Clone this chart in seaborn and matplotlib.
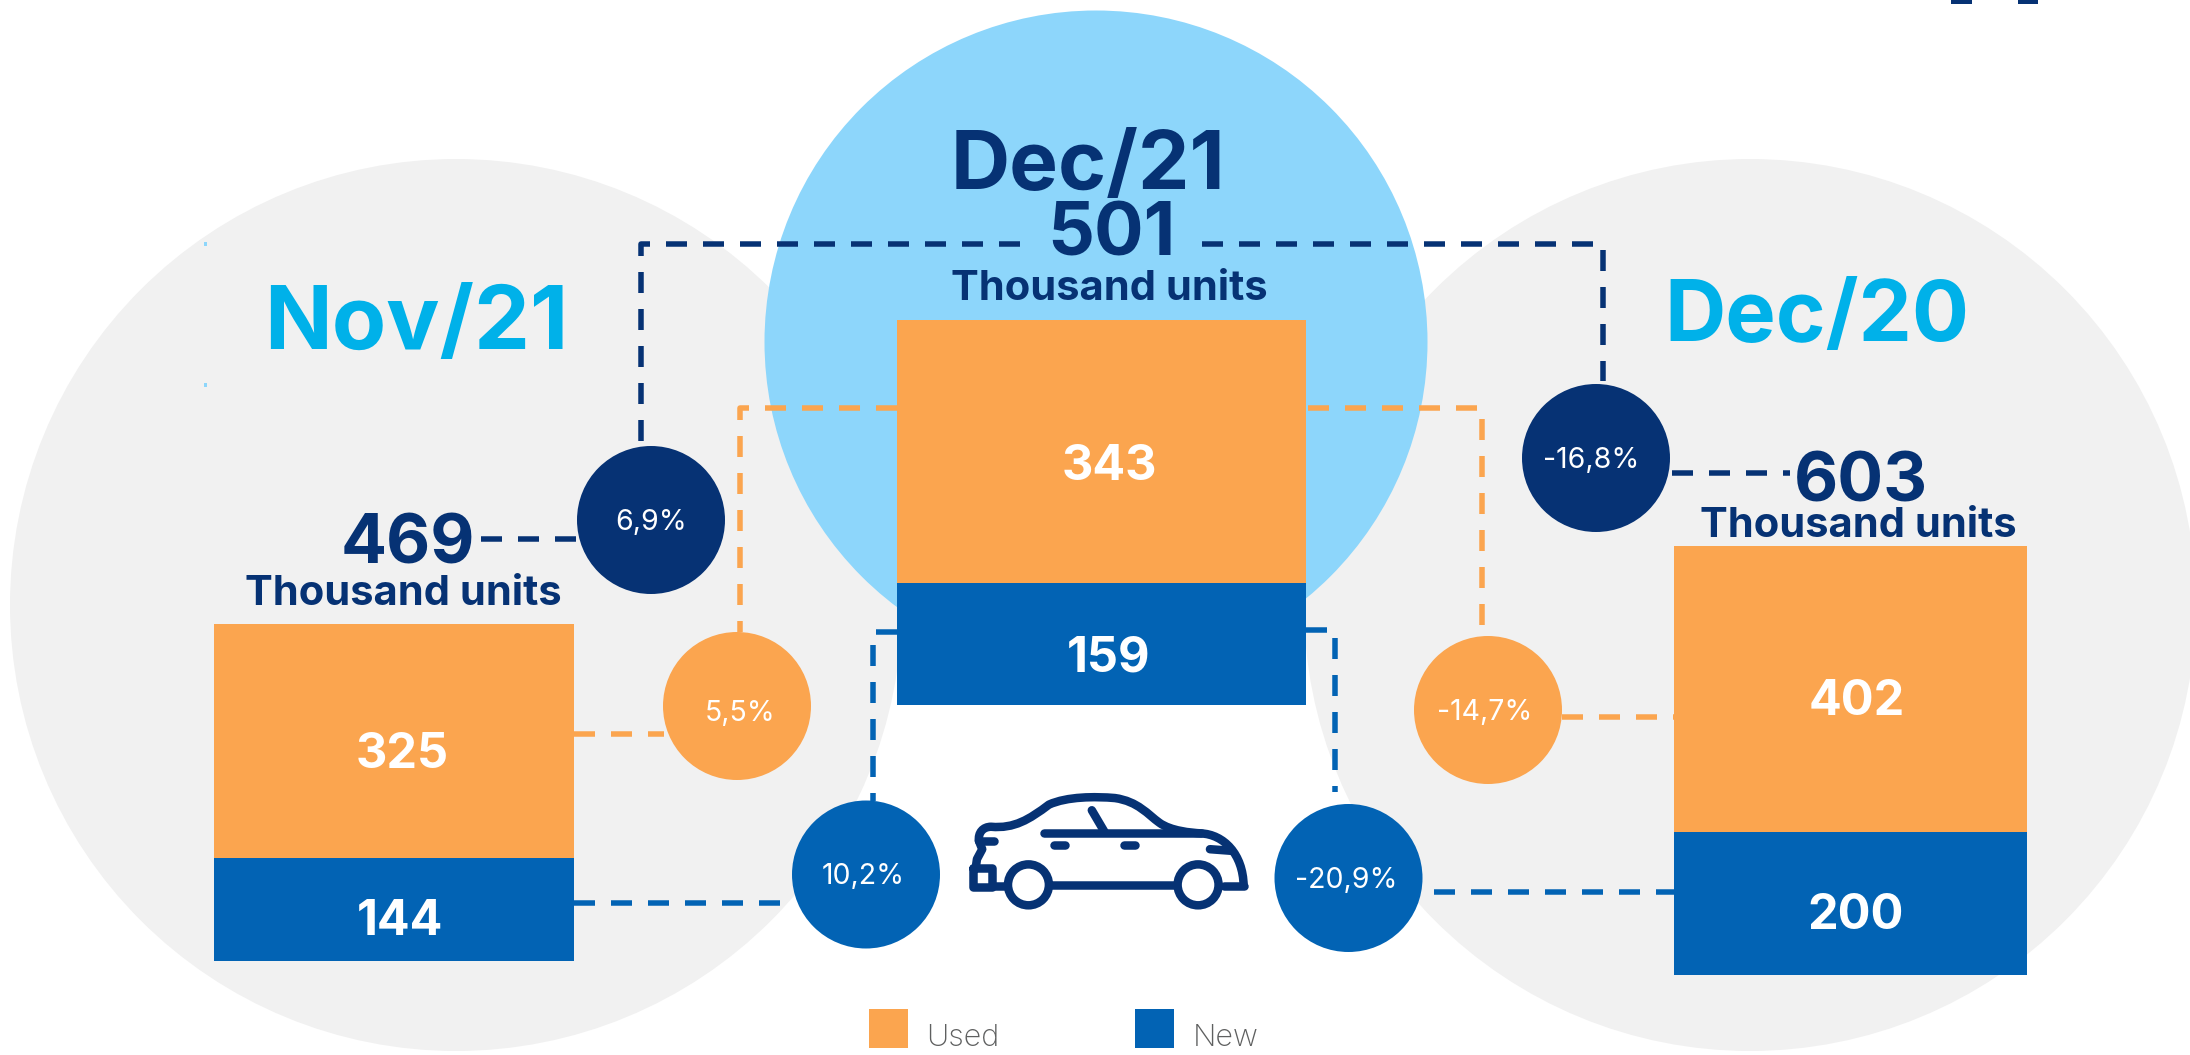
import matplotlib
matplotlib.use("Agg")
import matplotlib.pyplot as plt
from matplotlib.patches import Circle, Rectangle, PathPatch
from matplotlib.path import Path
import seaborn as sns

W, H = 2190, 1055
FONT = "Inter"

months = ["Nov/21", "Dec/21", "Dec/20"]
used = [325, 343, 402]
new = [144, 159, 200]
totals_shown = [469, 501, 603]
pct_total = ["6,9%", "-16,8%"]
pct_used = ["5,5%", "-14,7%"]
pct_new = ["10,2%", "-20,9%"]
unit_label = "Thousand units"
legend_labels = ["Used", "New"]

ORANGE = "#FBA54F"
BLUE = "#0263B4"
NAVY = "#063274"
CYAN = "#00B1E9"
SKY = "#8DD6FB"
GRAY = "#F1F1F1"

sns.set_theme(style="white")
plt.rcParams["font.family"] = [FONT, "DejaVu Sans"]

fig = plt.figure(figsize=(W / 100, H / 100), dpi=100, facecolor="white")


def full_axes(z):
    ax = fig.add_axes([0, 0, 1, 1], zorder=z)
    ax.set_xlim(0, W)
    ax.set_ylim(H, 0)
    ax.axis("off")
    ax.patch.set_alpha(0)
    return ax


back = full_axes(0)
over = full_axes(2)

# background discs
back.add_patch(Circle((456, 605), 446, fc=GRAY, ec="none"))
back.add_patch(Circle((1750, 605), 446, fc=GRAY, ec="none"))
back.add_patch(Circle((1096, 342), 331.5, fc=SKY, ec="none"))
for yy in (244, 385):
    back.add_patch(Rectangle((204, yy - 2), 2.5, 4, fc=SKY, ec="none"))

# stacked bars, one small axes per month
boxes = [(214, 574, 624, 961), (897, 1306, 320, 705), (1674, 2027, 546, 975)]
for m, u, n, (x0, x1, y0, y1) in zip(months, used, new, boxes):
    ax = fig.add_axes([x0 / W, 1 - y1 / H, (x1 - x0) / W, (y1 - y0) / H], zorder=1)
    sns.barplot(x=[m], y=[u + n], color=ORANGE, width=1, saturation=1, linewidth=0, ax=ax)
    sns.barplot(x=[m], y=[n], color=BLUE, width=1, saturation=1, linewidth=0, ax=ax)
    ax.set_xlim(-0.5, 0.5)
    ax.set_ylim(0, u + n)
    ax.axis("off")


# dashed connectors
def dash(xs, ys, color, lw=5.5):
    over.plot(xs, ys, color=color, lw=lw * 0.72, dashes=(21 / lw, 16 / lw),
              dash_capstyle="butt", solid_joinstyle="miter", zorder=1)


dash([640.5, 640.5, 1020], [441, 243.5, 243.5], NAVY)
dash([1202, 1602.5, 1602.5], [243.5, 243.5, 381], NAVY)
dash([481, 577], [539, 539], NAVY)
dash([1672, 1790], [473, 473], NAVY)
dash([897, 740, 740], [408, 408, 632], ORANGE)
dash([1308, 1482, 1482], [408, 408, 625], ORANGE)
dash([574, 664], [733.5, 733.5], ORANGE)
dash([1562, 1674], [716.5, 716.5], ORANGE)
dash([574, 795], [903, 903], BLUE)
dash([1434, 1674], [892, 892], BLUE)
dash([897, 873, 873], [632, 632, 801], BLUE)
dash([1306, 1335, 1335], [630, 630, 792], BLUE)

# change bubbles
bubbles = [
    (651, 520, NAVY, pct_total[0], 651, 530),
    (1596, 458, NAVY, pct_total[1], 1591, 468),
    (737, 706, ORANGE, pct_used[0], 740, 721),
    (1488, 710, ORANGE, pct_used[1], 1485, 720),
    (866, 874.5, BLUE, pct_new[0], 863, 884),
    (1348.5, 878, BLUE, pct_new[1], 1346, 888),
]
for cx, cy, c, s, tx, ty in bubbles:
    over.add_patch(Circle((cx, cy), 74, fc=c, ec="none", zorder=2))
    over.text(tx, ty, s, color="white", fontsize=20.5, fontweight="normal", ha="center", va="baseline", zorder=3)

# headings
for s, x, y, c, fs in [
    (months[0], 416, 349, CYAN, 64),
    (months[1], 1088, 189, NAVY, 59),
    (months[2], 1817, 341, CYAN, 61),
]:
    over.text(x, y, s, color=c, fontsize=fs, fontweight="bold", ha="center", va="baseline", zorder=3)

# totals and units
for v, x, y, ux, uy, fs in zip(totals_shown, [407.5, 1111, 1861], [563.5, 255, 501],
                               [403, 1109, 1858], [605, 300, 537], [49, 53, 49]):
    over.text(x, y, str(v), color=NAVY, fontsize=fs, fontweight="bold", ha="center", va="baseline", zorder=3)
    over.text(ux, uy, unit_label, color=NAVY, fontsize=30, fontweight="bold", ha="center", va="baseline", zorder=3)

# bar value labels
for v, x, y in zip(used, [402, 1109, 1857], [768, 480, 715]):
    over.text(x, y, str(v), color="white", fontsize=35, fontweight="bold", ha="center", va="baseline", zorder=3)
for v, x, y in zip(new, [400, 1109, 1856], [935, 671, 929]):
    over.text(x, y, str(v), color="white", fontsize=35, fontweight="bold", ha="center", va="baseline", zorder=3)

# legend
for lab, c, sx, tx in zip(legend_labels, [ORANGE, BLUE], [869, 1135], [926, 1192.5]):
    over.add_patch(Rectangle((sx, 1009), 39, 39, fc=c, ec="none"))
    over.text(tx, 1046, lab, color="#5F6060", fontsize=22, fontweight="light", ha="left", va="baseline")


# car icon, sketched in a local 1000x485 box
def P(x, y):
    return (940 + x / 3.03, 770 + y / 3.03)


M, C = Path.MOVETO, Path.CURVE4
CAR_LW = 8.5 * 0.72


def stroke(points, curved=True):
    verts = [P(*p) for p in points]
    if curved:
        codes = [M] + [C] * (len(verts) - 1)
    else:
        codes = [M] + [Path.LINETO] * (len(verts) - 1)
    over.add_patch(PathPatch(Path(verts, codes), fc="none", ec=NAVY, lw=CAR_LW,
                             capstyle="round", joinstyle="round", zorder=3))


stroke([(118, 215), (115, 190), (130, 172), (155, 172),
        (225, 178), (270, 150), (330, 105),
        (385, 80), (470, 80), (530, 85),
        (600, 95), (630, 135), (665, 160),
        (700, 185), (760, 190), (790, 192),
        (860, 195), (918, 255), (920, 350)])
stroke([(920, 350), (860, 350)], False)
stroke([(118, 215), (165, 215)], False)
stroke([(118, 215), (128, 240), (112, 270), (108, 298)], False)
stroke([(315, 192), (790, 192)], False)
stroke([(460, 122), (500, 190)], False)
stroke([(345, 228), (380, 228)], False)
stroke([(558, 228), (590, 228)], False)
stroke([(818, 240), (885, 245)], False)
stroke([(335, 348), (715, 348)], False)
stroke([(160, 350), (200, 350)], False)
stroke([(100, 298), (158, 298), (158, 353), (100, 353), (100, 298)], False)
for wx in (268, 782):
    over.add_patch(Circle(P(wx, 348), 62 / 3.03, fc="none", ec=NAVY, lw=CAR_LW, zorder=3))

# clipped logo fragment at the top edge
for x0, x1 in [(1951, 1972), (2018, 2038)]:
    over.add_patch(Rectangle((x0, 0), x1 - x0, 3.5, fc=NAVY, ec="none"))

fig.savefig("out.png", dpi=100, facecolor="white")
